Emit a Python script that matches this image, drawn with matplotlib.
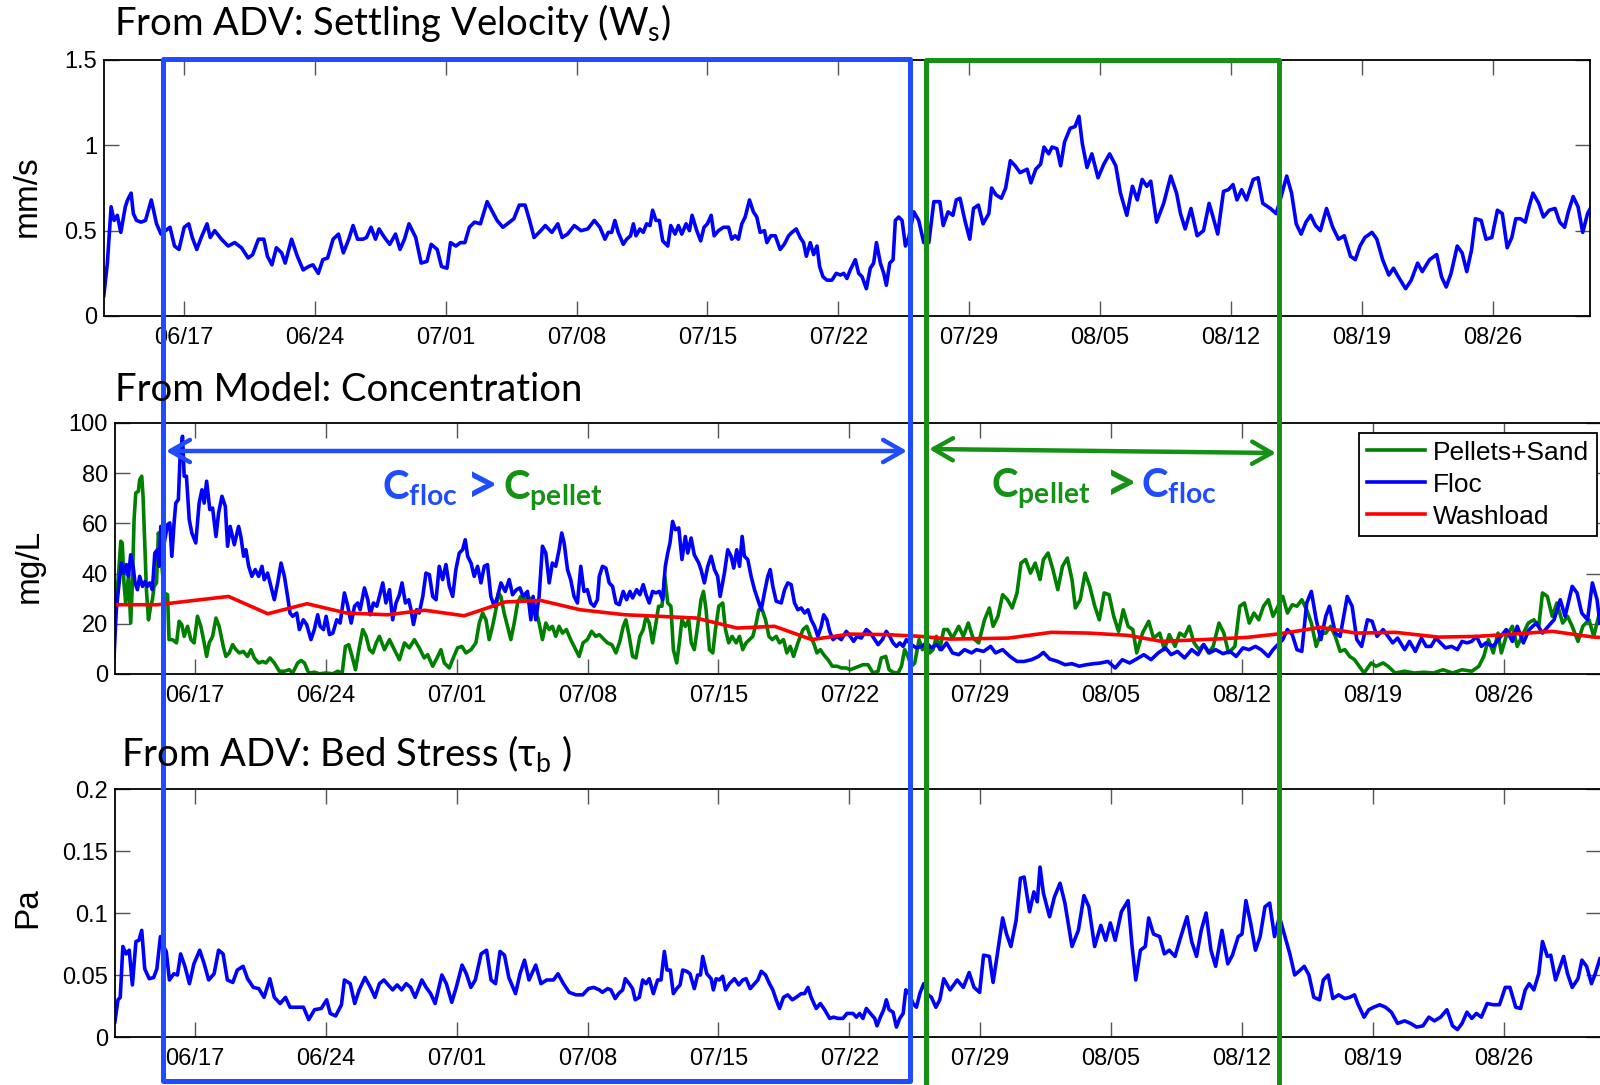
import matplotlib
matplotlib.use("Agg")
import matplotlib.pyplot as plt
from matplotlib.patches import FancyArrowPatch, Rectangle

plt.rcParams["font.family"] = ["Liberation Sans", "DejaVu Sans"]
plt.rcParams["mathtext.fontset"] = "custom"
plt.rcParams["mathtext.rm"] = "Lato"
plt.rcParams["mathtext.it"] = "Lato:italic"
plt.rcParams["mathtext.bf"] = "Lato:bold"
plt.rcParams["mathtext.fallback"] = "stixsans"

# days since 06/17 on every x axis
tick_days = [0, 7, 14, 21, 28, 35, 42, 49, 56, 63, 70]
tick_labels = ["06/17", "06/24", "07/01", "07/08", "07/15", "07/22",
               "07/29", "08/05", "08/12", "08/19", "08/26"]

# settling velocity, mm/s
ws_day = [
    -4.28, -4.09, -3.89, -3.73, -3.56, -3.37, -3.13, -3.01, -2.82, -2.70, -2.53, -2.29, -2.05, -1.74, -1.46, -1.22, -0.98, -0.74, -0.50, -0.26,
    0.02, 0.26, 0.45, 0.69, 0.93, 1.24, 1.41, 1.65, 2.01, 2.37, 2.72, 3.08, 3.44, 3.68, 3.99, 4.28, 4.47, 4.71, 4.95, 5.23,
    5.42, 5.76, 6.07, 6.38, 6.67, 6.90, 7.19, 7.43, 7.69, 7.98, 8.27, 8.53, 8.82, 9.05, 9.29, 9.58, 9.77, 10.01, 10.25, 10.44,
    10.73, 11.01, 11.32, 11.56, 11.80, 12.04, 12.40, 12.69, 13.00, 13.23, 13.55, 13.78, 14.07, 14.26, 14.55, 14.79, 15.03, 15.27, 15.55, 15.86,
    16.22, 16.46, 16.75, 17.06, 17.42, 17.65, 17.94, 18.25, 18.49, 18.73, 19.09, 19.33, 19.68, 20.00, 20.23, 20.52, 20.88, 21.24, 21.60, 21.95,
    22.25, 22.52, 22.70, 22.88, 23.05, 23.23, 23.50, 23.68, 23.89, 24.04, 24.18, 24.39, 24.57, 24.75, 24.93, 25.07, 25.25, 25.43, 25.61, 25.88,
    26.04, 26.27, 26.45, 26.63, 26.86, 27.04, 27.18, 27.43, 27.64, 27.82, 28.00, 28.20, 28.36, 28.59, 28.86, 29.13, 29.30, 29.48, 29.66, 29.84,
    30.02, 30.25, 30.46, 30.64, 30.82, 31.05, 31.18, 31.39, 31.63, 31.89, 32.11, 32.34, 32.52, 32.75, 32.96, 33.14, 33.29, 33.50, 33.68, 33.86,
    34.00, 34.18, 34.39, 34.66, 34.89, 35.11, 35.29, 35.46, 35.64, 35.91, 36.09, 36.27, 36.50, 36.71, 36.89, 37.04, 37.25, 37.43, 37.57, 37.75,
    37.93, 38.05, 38.23, 38.41, 38.59, 38.77, 39.04, 39.30, 39.57, 39.84, 40.11, 40.43, 40.61,
    40.87, 41.13, 41.31, 41.51, 41.77, 42.03, 42.23, 42.49, 42.74, 43.05, 43.20, 43.43, 43.72, 43.95, 44.20, 44.46, 44.72, 45.10, 45.30, 45.56,
    45.82, 46.00, 46.25, 46.43, 46.69, 46.89, 47.10, 47.40, 47.66, 47.87, 48.05, 48.30, 48.56, 48.89, 49.20, 49.51, 49.84, 50.09, 50.43, 50.73,
    50.99, 51.25, 51.50, 51.71, 52.02, 52.40, 52.78, 53.09, 53.30, 53.55, 53.86, 54.19, 54.53, 54.83, 55.04, 55.29, 55.60, 55.86, 56.11, 56.32,
    56.57, 56.83, 57.19, 57.45, 57.70, 58.11, 58.42, 58.68, 58.98, 59.24, 59.49, 59.75, 60.01, 60.26, 60.52, 60.78, 61.11, 61.44, 61.75, 62.06,
    62.39, 62.65, 62.90, 63.16, 63.54, 63.80, 64.11, 64.44, 64.69, 64.95, 65.34, 65.64, 65.98, 66.23, 66.62, 67.00, 67.26, 67.51, 67.77, 68.10,
    68.36, 68.61, 68.87, 69.07, 69.38, 69.64, 69.95, 70.25, 70.51, 70.77, 71.02, 71.23, 71.48, 71.74, 71.94, 72.15, 72.46, 72.71, 73.02, 73.33,
    73.58, 73.84, 74.04, 74.30, 74.56, 74.81, 75.07, 75.27,
]
ws_val = [
    0.12, 0.31, 0.64, 0.56, 0.59, 0.49, 0.64, 0.68, 0.72, 0.60, 0.56, 0.55, 0.56, 0.68, 0.54, 0.48, 0.50, 0.52, 0.41, 0.39,
    0.52, 0.54, 0.46, 0.39, 0.46, 0.54, 0.46, 0.50, 0.45, 0.41, 0.43, 0.40, 0.34, 0.36, 0.45, 0.45, 0.35, 0.30, 0.40, 0.37,
    0.31, 0.45, 0.35, 0.27, 0.29, 0.30, 0.25, 0.33, 0.34, 0.45, 0.48, 0.37, 0.45, 0.53, 0.45, 0.45, 0.46, 0.52, 0.45, 0.51,
    0.46, 0.42, 0.48, 0.39, 0.45, 0.54, 0.46, 0.31, 0.32, 0.42, 0.39, 0.29, 0.28, 0.43, 0.41, 0.43, 0.43, 0.52, 0.55, 0.54,
    0.67, 0.62, 0.56, 0.52, 0.55, 0.57, 0.65, 0.65, 0.56, 0.46, 0.50, 0.53, 0.49, 0.54, 0.46, 0.48, 0.53, 0.50, 0.51, 0.56,
    0.52, 0.45, 0.49, 0.49, 0.56, 0.49, 0.42, 0.45, 0.47, 0.54, 0.47, 0.51, 0.49, 0.54, 0.53, 0.62, 0.56, 0.56, 0.44, 0.41,
    0.53, 0.48, 0.53, 0.48, 0.54, 0.50, 0.59, 0.50, 0.44, 0.52, 0.54, 0.59, 0.47, 0.50, 0.52, 0.52, 0.45, 0.47, 0.45, 0.54,
    0.58, 0.68, 0.61, 0.58, 0.49, 0.50, 0.43, 0.47, 0.47, 0.39, 0.42, 0.47, 0.49, 0.51, 0.46, 0.43, 0.35, 0.43, 0.36, 0.41,
    0.29, 0.23, 0.21, 0.21, 0.25, 0.24, 0.25, 0.22, 0.27, 0.33, 0.25, 0.23, 0.16, 0.28, 0.31, 0.43, 0.31, 0.25, 0.18, 0.31,
    0.33, 0.56, 0.58, 0.56, 0.41, 0.46, 0.61, 0.56, 0.43, 0.43, 0.67, 0.67, 0.53,
    0.61, 0.59, 0.68, 0.69, 0.56, 0.45, 0.63, 0.65, 0.54, 0.60, 0.75, 0.71, 0.69, 0.75, 0.91, 0.88, 0.84, 0.86, 0.78, 0.86,
    0.89, 0.99, 0.95, 0.99, 0.98, 0.88, 1.02, 1.10, 1.11, 1.17, 1.01, 0.87, 0.95, 0.81, 0.89, 0.95, 0.88, 0.72, 0.59, 0.76,
    0.68, 0.80, 0.76, 0.79, 0.55, 0.66, 0.82, 0.72, 0.60, 0.51, 0.63, 0.47, 0.50, 0.66, 0.58, 0.48, 0.73, 0.74, 0.77, 0.68,
    0.74, 0.68, 0.80, 0.81, 0.66, 0.63, 0.60, 0.70, 0.82, 0.72, 0.54, 0.48, 0.55, 0.59, 0.53, 0.50, 0.63, 0.52, 0.45, 0.47,
    0.35, 0.33, 0.41, 0.46, 0.49, 0.45, 0.33, 0.24, 0.28, 0.23, 0.16, 0.21, 0.31, 0.26, 0.33, 0.36, 0.23, 0.17, 0.25, 0.41,
    0.37, 0.26, 0.39, 0.57, 0.56, 0.45, 0.46, 0.62, 0.60, 0.40, 0.46, 0.57, 0.57, 0.55, 0.64, 0.72, 0.66, 0.58, 0.62, 0.63,
    0.55, 0.52, 0.61, 0.70, 0.64, 0.49, 0.60, 0.64,
]

# modelled concentration, mg/L
floc_day = [
    -4.32, -4.20, -4.05, -3.93, -3.79, -3.66, -3.55, -3.43, -3.30, -3.20, -3.07, -2.95, -2.80, -2.66, -2.54, -2.41, -2.27, -2.14, -2.00, -1.91,
    -1.82, -1.64, -1.46, -1.34, -1.23, -1.11, -1.02, -0.88, -0.79, -0.66, -0.57, -0.45, -0.30, -0.16, 0.05, 0.23, 0.38, 0.50, 0.63, 0.80,
    0.95, 1.13, 1.27, 1.45, 1.63, 1.75, 1.89, 2.11, 2.34, 2.46, 2.61, 2.73, 2.88, 3.05, 3.23, 3.41, 3.59, 3.71, 3.89, 4.07,
    4.25, 4.43, 4.61, 4.79, 4.96, 5.09, 5.23, 5.45, 5.59, 5.80, 5.98, 6.21, 6.39, 6.57, 6.70, 6.88, 7.02, 7.20, 7.38, 7.59,
    7.77, 8.00, 8.18, 8.36, 8.54, 8.71, 8.84, 9.07, 9.25, 9.38, 9.55, 9.73,
    9.87, 10.05, 10.22, 10.41, 10.58, 10.76, 10.94, 11.08, 11.26, 11.44, 11.56, 11.69, 11.86, 12.00, 12.19, 12.36, 12.54, 12.72, 12.90, 13.07,
    13.25, 13.43, 13.61, 13.79, 13.96, 14.14, 14.32, 14.46, 14.59, 14.77, 14.94, 15.12, 15.30, 15.48, 15.65, 15.83, 16.01, 16.19, 16.37, 16.60,
    16.81, 16.99, 17.20, 17.38, 17.56, 17.79, 17.97, 18.09, 18.23, 18.41, 18.59, 18.77, 18.95, 19.12, 19.30, 19.48, 19.62, 19.75, 19.93, 20.10,
    20.28, 20.46, 20.64, 20.81, 20.99, 21.17, 21.35, 21.53,
    21.63, 21.80, 21.98, 22.16, 22.34, 22.52, 22.70, 22.91, 23.09, 23.27, 23.41, 23.63, 23.80, 23.98, 24.13, 24.30, 24.48, 24.66, 24.84, 25.02,
    25.16, 25.29, 25.41, 25.55, 25.70, 25.88, 26.05, 26.23, 26.36, 26.54, 26.71, 26.95, 27.07, 27.25, 27.43, 27.61, 27.79, 27.96, 28.09, 28.32,
    28.50, 28.68, 28.82, 28.98, 29.13, 29.27, 29.39, 29.57, 29.75, 29.93, 30.11, 30.29, 30.46, 30.64, 30.77, 30.91, 31.09, 31.36, 31.54, 31.71,
    31.89, 32.07, 32.25, 32.43, 32.61, 32.79, 32.96, 33.14, 33.32, 33.50, 33.63, 33.80, 33.95, 34.13, 34.34, 34.57, 34.84, 35.05, 35.23, 35.41,
    35.64, 35.91, 36.13, 36.36, 36.54, 36.77, 36.98, 37.16, 37.34, 37.52, 37.70, 37.88, 38.05, 38.32, 38.59, 38.86, 39.13, 39.39, 39.66, 39.93,
    40.20,
    40.52, 40.85, 41.16, 41.54, 41.80, 42.18, 42.56, 42.82, 43.20, 43.59, 43.97, 44.35, 44.74, 45.12, 45.38, 45.71, 46.15, 46.53, 46.91, 47.30,
    47.68, 48.07, 48.45, 48.83, 49.22, 49.60, 49.99, 50.37, 50.75, 51.14, 51.52, 51.91, 52.21, 52.55, 52.93, 53.31, 53.65, 53.95, 54.26, 54.59,
    54.98, 55.36, 55.69, 56.05, 56.38, 56.72, 57.02, 57.41, 57.66, 57.92, 58.18, 58.43, 58.69, 58.94, 59.20, 59.46, 59.71, 59.97, 60.22, 60.48,
    60.68, 60.99, 61.25, 61.63, 61.89, 62.14, 62.40, 62.71, 62.96, 63.22, 63.55, 63.81, 64.06, 64.32, 64.70, 64.96, 65.27, 65.60, 65.85, 66.11,
    66.37, 66.62, 66.88, 67.21, 67.52, 67.77, 68.03, 68.29, 68.54, 68.80, 69.05, 69.44, 69.77, 70.13, 70.46, 70.72, 71.05, 71.36, 71.74, 72.07,
    72.38, 72.69, 73.02, 73.28, 73.66, 73.92, 74.17, 74.48, 74.74, 74.99, 75.14,
]
floc_val = [
    7.0, 25.6, 36.3, 44.2, 40.2, 43.6, 38.9, 47.5, 42.9, 36.3, 33.6, 38.9, 34.9, 36.9, 34.9, 36.3, 33.6, 48.2, 49.5, 42.9,
    58.8, 52.2, 59.5, 60.2, 46.9, 60.2, 68.1, 69.5, 86.7, 94.7, 78.8, 78.8, 61.5, 56.2, 52.2, 68.1, 73.4, 68.1, 76.8, 65.5,
    66.1, 54.8, 64.1, 70.8, 66.8, 50.9, 58.8, 51.5, 58.8, 54.8, 46.9, 49.5, 42.9, 38.9, 41.6, 38.9, 42.9, 37.6, 40.2, 34.9,
    29.6, 36.3, 44.2, 38.9, 30.9, 24.3, 23.0, 24.3, 17.7, 21.6, 19.7, 13.7, 17.7, 23.6, 19.0, 17.7, 23.0, 15.7, 16.3, 21.6,
    20.3, 32.3, 27.0, 20.3, 27.0, 28.3, 25.6, 34.3, 29.6, 23.6, 28.3, 27.0,
    30.9, 36.3, 28.3, 33.6, 21.6, 28.3, 31.6, 36.3, 28.3, 29.6, 25.6, 19.7, 25.6, 24.3, 30.9, 40.2, 39.6, 30.9, 29.6, 42.9,
    37.6, 43.6, 34.9, 30.9, 41.6, 48.2, 49.5, 53.5, 46.9, 44.2, 38.9, 42.9, 36.3, 42.9, 43.6, 30.9, 27.0, 30.9, 36.3, 32.9,
    37.6, 31.6, 33.6, 34.3, 30.9, 32.9, 21.6, 30.9, 21.6, 30.9, 50.9, 48.2, 36.3, 44.2, 42.9, 49.5, 56.2, 52.2, 41.6, 37.6,
    30.9, 28.3, 42.9, 32.9, 33.6, 28.3, 27.0, 29.6,
    38.9, 42.9, 42.2, 36.3, 34.9, 28.3, 27.6, 32.9, 29.6, 32.9, 30.3, 33.6, 31.6, 35.6, 31.6, 28.3, 32.9, 32.3, 32.9, 29.6,
    42.9, 48.2, 52.2, 60.8, 57.5, 58.2, 45.6, 54.8, 48.2, 54.2, 47.5, 44.2, 41.6, 36.3, 42.9, 46.9, 41.6, 38.9, 30.9, 40.2,
    49.5, 46.9, 42.2, 49.5, 42.9, 54.8, 46.9, 45.6, 38.9, 33.6, 29.6, 25.6, 32.3, 38.9, 41.6, 34.9, 29.0, 28.3, 33.6, 36.3,
    35.6, 28.3, 25.6, 26.3, 24.3, 25.6, 21.6, 19.0, 15.0, 19.0, 23.6, 21.6, 17.0, 13.7, 15.0, 13.7, 17.0, 15.0, 13.0, 15.0,
    14.3, 17.7, 16.3, 13.7, 11.7, 13.7, 17.0, 15.0, 12.4, 11.0, 12.4, 11.0, 13.7, 11.7, 10.4, 11.0, 12.4, 10.4, 11.7, 9.7,
    12.4,
    8.4, 7.7, 9.7, 8.4, 9.7, 9.0, 11.0, 8.4, 9.7, 7.0, 5.0, 5.0, 5.7, 7.0, 8.6, 6.0, 5.0, 3.7, 4.1, 3.1,
    3.7, 4.1, 4.4, 5.0, 2.4, 5.7, 4.4, 6.0, 7.7, 5.7, 8.4, 10.4, 7.7, 9.0, 6.4, 9.7, 7.7, 11.7, 8.4, 9.7,
    8.1, 9.0, 7.0, 10.4, 9.7, 11.0, 9.7, 7.0, 9.7, 11.7, 13.7, 17.7, 15.7, 9.7, 9.0, 28.3, 32.9, 21.6, 13.7, 23.0,
    27.0, 16.3, 15.0, 30.9, 27.0, 13.7, 11.0, 21.6, 21.0, 15.0, 17.7, 15.0, 12.4, 14.3, 9.7, 13.0, 9.0, 14.3, 11.0, 11.0,
    14.3, 12.4, 10.4, 11.0, 9.7, 13.0, 12.4, 13.0, 15.0, 11.0, 12.4, 11.0, 14.3, 17.7, 13.0, 19.0, 12.4, 17.7, 20.3, 16.3,
    19.0, 21.6, 29.6, 23.0, 34.9, 32.3, 24.3, 21.6, 36.3, 29.6, 20.3,
]

pellet_day = [
    -4.32, -4.20, -4.09, -3.96, -3.88, -3.79, -3.70, -3.55, -3.43, -3.34, -3.25, -3.16, -3.02, -2.95, -2.84, -2.77, -2.68, -2.59, -2.48, -2.36,
    -2.27, -2.18, -2.05, -1.95, -1.82, -1.64, -1.46, -1.38, -1.20, -0.98, -0.84, -0.70, -0.57, -0.39, -0.21, -0.04, 0.14, 0.32, 0.50, 0.63,
    0.77, 0.95, 1.13, 1.30, 1.52, 1.66, 1.84, 2.02, 2.20, 2.38, 2.59, 2.82, 3.00, 3.18, 3.41, 3.63, 3.80, 4.02, 4.25, 4.52,
    4.79, 5.05, 5.23, 5.50, 5.68, 5.86, 6.09, 6.39, 6.66, 7.02, 7.38, 7.64, 7.88, 8.05, 8.23, 8.41, 8.59, 8.77, 8.98, 9.16,
    9.34, 9.52, 9.70,
    9.87, 10.14, 10.41, 10.67, 10.94, 11.21, 11.47, 11.74, 12.00, 12.27, 12.45, 12.72, 12.99, 13.16, 13.34, 13.61, 13.82, 14.05, 14.28, 14.50,
    14.77, 15.03, 15.21, 15.39, 15.57, 15.74, 15.92, 16.10, 16.24, 16.37, 16.54, 16.72, 16.90, 17.08, 17.26, 17.43, 17.61, 17.79, 18.02, 18.23,
    18.41, 18.59, 18.77, 18.95, 19.12, 19.30, 19.48, 19.66, 19.87, 20.10, 20.28, 20.55, 20.76, 20.99, 21.22, 21.44,
    21.63, 21.89, 22.07, 22.30, 22.52, 22.73, 22.91, 23.05, 23.23, 23.41, 23.59, 23.80, 23.98, 24.13, 24.30, 24.48, 24.66, 24.80, 24.98, 25.13,
    25.29, 25.46, 25.59, 25.77, 25.91, 26.05, 26.23, 26.41, 26.55, 26.71, 26.89, 27.07, 27.20, 27.34, 27.52, 27.70, 27.84, 28.02, 28.23, 28.38,
    28.55, 28.73, 28.95, 29.13, 29.30, 29.48, 29.66, 29.84, 30.02, 30.16, 30.34, 30.52, 30.70, 30.88, 31.09, 31.27, 31.48, 31.66, 31.84, 32.02,
    32.25, 32.52, 32.73, 32.91, 33.09, 33.27, 33.45, 33.63, 33.86, 34.09, 34.34, 34.57, 34.84, 35.05, 35.29, 35.52, 35.73, 36.00, 36.27, 36.54,
    36.71, 36.95, 37.13, 37.34, 37.61, 37.79, 37.96, 38.14, 38.32, 38.50, 38.73, 38.91, 39.13, 39.30, 39.48, 39.66, 39.84, 40.05,
    40.26, 40.52, 40.85, 41.10, 41.36, 41.62, 41.92, 42.23, 42.49, 42.69, 42.95, 43.20, 43.46, 43.71, 43.97, 44.18, 44.43, 44.69, 44.94, 45.20,
    45.38, 45.63, 45.89, 46.15, 46.40, 46.66, 46.91, 47.09, 47.35, 47.61, 47.86, 48.12, 48.37, 48.63, 48.89, 49.14, 49.40, 49.65, 49.91, 50.16,
    50.37, 50.68, 51.01, 51.27, 51.60, 51.85, 52.11, 52.42, 52.67, 52.93, 53.18, 53.44, 53.70, 53.95, 54.21, 54.46, 54.77, 55.03, 55.28, 55.62,
    55.88, 56.13, 56.39, 56.64, 56.90, 57.15, 57.41, 57.66, 57.84, 58.18, 58.43, 58.69, 58.94, 59.20, 59.46, 59.71, 59.97, 60.22, 60.48, 60.74,
    60.99, 61.25, 61.50, 61.76, 62.02, 62.27, 62.53, 62.91, 63.17, 63.55, 63.81, 64.19, 64.70, 65.21, 65.73, 66.24, 66.75, 67.26, 67.77, 68.29,
    68.67, 68.93, 69.18, 69.44, 69.69, 69.87, 70.13, 70.46, 70.72, 70.97, 71.31, 71.61, 71.87, 72.07, 72.33, 72.59, 72.84, 73.15, 73.41, 73.66,
    73.97, 74.23, 74.56, 74.81, 75.14,
]
pellet_val = [
    25.6, 29.6, 38.9, 52.9, 52.2, 36.3, 28.3, 38.9, 20.3, 36.3, 61.5, 72.1, 72.8, 77.4, 78.8, 70.8, 52.2, 33.6, 21.6, 27.0,
    29.6, 34.9, 36.3, 56.2, 48.2, 32.3, 31.6, 13.7, 13.7, 12.4, 21.0, 19.7, 15.0, 19.0, 13.7, 12.4, 23.0, 19.0, 12.4, 7.0,
    12.4, 15.0, 22.3, 19.0, 11.0, 7.0, 8.4, 11.7, 9.7, 8.4, 9.0, 7.0, 9.7, 6.4, 4.4, 5.0, 4.4, 6.4, 4.4, 1.1,
    1.1, 1.7, 0.4, 4.4, 5.4, 4.4, 0.4, 0.7, 0.1, 0.4, 0.1, 1.1, 0.4, 11.0, 11.7, 7.0, 1.7, 9.7, 17.7, 15.0,
    9.7, 8.4, 12.4,
    15.0, 9.7, 13.7, 9.7, 5.7, 12.4, 10.4, 13.7, 10.4, 6.4, 7.7, 3.1, 7.0, 9.7, 4.4, 2.4, 6.4, 10.4, 11.0, 8.4,
    9.7, 12.4, 20.3, 24.3, 21.6, 13.7, 19.0, 25.6, 32.3, 30.9, 24.3, 19.0, 13.7, 20.3, 28.3, 30.9, 29.6, 30.9, 29.6, 25.6,
    20.3, 13.7, 20.3, 17.7, 19.0, 15.0, 19.0, 16.3, 17.7, 13.7, 11.0, 7.0, 12.4, 13.7, 17.0, 15.0,
    15.7, 13.7, 12.4, 11.7, 8.4, 13.0, 19.0, 21.6, 15.0, 7.0, 6.4, 15.0, 17.7, 23.0, 20.3, 12.4, 20.3, 27.0, 27.0, 38.9,
    28.3, 27.0, 9.7, 4.4, 12.4, 21.6, 19.0, 21.6, 12.4, 9.7, 19.0, 29.6, 32.9, 25.6, 9.7, 8.4, 17.7, 27.0, 28.3, 17.7,
    12.4, 15.0, 12.4, 15.0, 9.7, 12.4, 13.7, 15.0, 20.3, 25.6, 25.6, 21.6, 15.0, 13.7, 15.0, 12.4, 13.7, 8.4, 11.0, 7.0,
    12.4, 17.7, 19.0, 15.0, 12.4, 8.4, 9.7, 7.7, 5.7, 3.1, 3.1, 2.4, 2.4, 1.7, 2.4, 3.1, 3.7, 3.7, 0.4, 1.1,
    6.4, 7.0, 1.7, 0.7, 0.4, 3.1, 9.7, 7.0, 3.1, 4.4, 13.7, 9.7, 12.4, 8.4, 9.7, 15.0, 9.7, 17.7,
    17.7, 14.3, 19.0, 15.0, 20.3, 14.3, 12.4, 21.6, 26.3, 19.0, 23.0, 31.6, 29.6, 26.3, 32.3, 44.2, 45.6, 40.2, 44.2, 37.6,
    45.6, 48.2, 41.6, 33.6, 42.9, 46.2, 37.6, 26.3, 29.6, 40.2, 34.9, 27.2, 21.6, 32.3, 31.6, 23.0, 17.0, 25.6, 19.0, 17.7,
    8.4, 16.3, 21.0, 14.3, 16.3, 9.7, 15.7, 11.0, 16.3, 15.0, 19.0, 12.4, 9.7, 11.7, 8.4, 11.0, 20.3, 16.3, 8.4, 11.0,
    27.0, 28.3, 20.3, 24.3, 21.6, 27.0, 29.6, 23.0, 25.6, 30.9, 24.3, 27.6, 27.0, 29.6, 25.6, 20.3, 11.0, 16.3, 16.3, 19.0,
    15.0, 9.0, 9.7, 7.0, 5.7, 3.1, 0.4, 4.4, 3.1, 4.4, 3.1, 0.4, 1.1, 0.4, 0.7, 0.4, 1.7, 0.4, 1.7, 1.1,
    3.1, 7.0, 13.7, 8.4, 16.3, 8.4, 15.0, 19.0, 11.0, 15.0, 20.3, 21.6, 19.0, 32.3, 30.9, 23.0, 28.3, 20.3, 23.0, 19.0,
    13.0, 19.0, 21.6, 15.0, 25.0,
]

wash_day = [-4.3, -2.0, 1.8, 3.9, 6.0, 8.1, 10.3, 12.3, 14.4, 16.6, 18.5, 20.6, 23.0, 26.8, 29.0, 31.0,
            33.0, 35.0, 37.0, 38.8, 40.4, 43.5, 45.8, 47.8, 49.9, 51.7, 54.5, 56.3, 58.1, 60.2, 62.1,
            64.2, 66.5, 68.6, 70.9, 72.6, 74.8, 75.3]
wash_val = [27.6, 27.6, 30.9, 24.0, 28.0, 24.3, 23.6, 25.4, 23.2, 28.7, 29.3, 25.6, 23.6, 22.3, 18.3, 19.0,
            13.7, 15.9, 15.7, 15.0, 13.9, 14.3, 16.6, 16.3, 15.4, 13.0, 13.9, 14.6, 16.1, 18.6, 16.3,
            16.6, 14.7, 15.0, 16.1, 17.0, 14.7, 14.5]

# bed stress, Pa
tau_day = [
    -4.28, -4.11, -3.99, -3.85, -3.68, -3.51, -3.34, -3.15, -2.99, -2.84, -2.68, -2.44, -2.20, -2.03, -1.84, -1.67, -1.53, -1.36, -1.12, -0.93,
    -0.76, -0.53, -0.29, -0.05, 0.26, 0.50, 0.74, 1.03, 1.27, 1.51, 1.74, 2.03, 2.27, 2.58, 2.82, 3.13, 3.42, 3.70, 4.01, 4.25,
    4.56, 4.85, 5.09, 5.45, 5.81, 6.09, 6.40, 6.76, 7.05, 7.24, 7.53, 7.84, 8.00, 8.31, 8.55, 8.79, 9.10, 9.39, 9.63, 9.87,
    10.11, 10.34, 10.58, 10.82, 11.06, 11.30, 11.54, 11.78, 12.14, 12.37, 12.61, 12.85, 13.21, 13.45, 13.74, 13.98, 14.29, 14.52, 14.76, 15.00,
    15.31, 15.60, 15.84, 16.08, 16.32, 16.56, 16.79, 17.15, 17.39, 17.63, 17.87, 18.23, 18.51, 18.82, 19.18, 19.42, 19.71, 20.02, 20.38, 20.74,
    21.05, 21.33,
    21.63, 21.80, 22.07, 22.25, 22.48, 22.66, 22.88, 23.02, 23.23, 23.41, 23.55, 23.77, 23.95, 24.13, 24.30, 24.52, 24.75, 24.93, 25.11, 25.25,
    25.43, 25.59, 25.77, 25.95, 26.09, 26.30, 26.48, 26.71, 26.89, 27.04, 27.16, 27.38, 27.61, 27.73, 27.88, 28.05, 28.23, 28.38, 28.59, 28.86,
    29.09, 29.30, 29.48, 29.70, 29.93, 30.11, 30.29, 30.52, 30.73, 30.91, 31.09, 31.27, 31.48, 31.71, 31.95, 32.16, 32.43, 32.61, 32.79, 32.96,
    33.23, 33.45, 33.68, 33.95, 34.16, 34.39, 34.66, 34.88, 35.20, 35.38, 35.55, 35.73, 35.91, 36.13, 36.36, 36.48, 36.66, 36.84, 36.98, 37.13,
    37.34, 37.52, 37.70, 37.88, 38.02, 38.20, 38.41, 38.59, 38.77, 38.98, 39.21, 39.39, 39.63, 39.84, 40.05,
    40.39, 40.77, 41.10, 41.41, 41.67, 41.97, 42.18, 42.49, 42.69, 42.90, 43.20, 43.41, 43.64, 43.92, 44.15, 44.35, 44.64, 44.87, 45.05, 45.20,
    45.38, 45.71, 45.97, 46.27, 46.53, 46.91, 47.25, 47.55, 47.81, 48.12, 48.45, 48.71, 48.96, 49.22, 49.55, 49.91, 50.11, 50.32, 50.57, 50.83,
    51.01, 51.27, 51.60, 51.85, 52.11, 52.42, 52.67, 53.06, 53.31, 53.57, 53.82, 54.08, 54.34, 54.59, 54.93, 55.24, 55.49, 55.80, 56.00, 56.21,
    56.46, 56.72, 56.97, 57.23, 57.48, 57.74, 58.00, 58.30, 58.56, 58.82, 59.12, 59.33, 59.58, 59.84, 60.15, 60.35, 60.61, 60.86, 61.17, 61.50,
    61.76, 62.02, 62.19, 62.53, 62.78, 63.04, 63.37, 63.68, 63.99, 64.32, 64.70, 65.01, 65.34, 65.68, 65.99, 66.29, 66.62, 66.96, 67.26, 67.52,
    67.77, 68.03, 68.29, 68.54, 68.80, 69.11, 69.44, 69.77, 70.08, 70.33, 70.64, 70.90, 71.15, 71.36, 71.61, 71.87, 72.07, 72.33, 72.51, 72.77,
    73.02, 73.20, 73.41, 73.66, 73.97, 74.18, 74.43, 74.69, 74.89, 75.14,
]
tau_val = [
    0.012, 0.030, 0.032, 0.073, 0.067, 0.070, 0.042, 0.077, 0.078, 0.086, 0.055, 0.047, 0.048, 0.055, 0.081, 0.073, 0.069, 0.046, 0.051, 0.050,
    0.067, 0.057, 0.043, 0.059, 0.070, 0.059, 0.046, 0.051, 0.070, 0.067, 0.046, 0.044, 0.054, 0.057, 0.047, 0.040, 0.039, 0.032, 0.047, 0.032,
    0.027, 0.032, 0.024, 0.024, 0.024, 0.014, 0.022, 0.023, 0.030, 0.019, 0.017, 0.026, 0.046, 0.043, 0.027, 0.038, 0.048, 0.040, 0.032, 0.043,
    0.046, 0.042, 0.038, 0.042, 0.038, 0.043, 0.040, 0.032, 0.046, 0.040, 0.035, 0.027, 0.050, 0.043, 0.028, 0.040, 0.058, 0.051, 0.040, 0.046,
    0.067, 0.070, 0.046, 0.043, 0.069, 0.066, 0.048, 0.035, 0.051, 0.062, 0.046, 0.058, 0.043, 0.046, 0.046, 0.051, 0.043, 0.036, 0.034, 0.034,
    0.039, 0.040,
    0.038, 0.036, 0.039, 0.038, 0.031, 0.035, 0.038, 0.047, 0.043, 0.039, 0.030, 0.032, 0.046, 0.043, 0.047, 0.035, 0.046, 0.046, 0.069, 0.054,
    0.054, 0.035, 0.039, 0.042, 0.054, 0.053, 0.051, 0.039, 0.050, 0.050, 0.065, 0.051, 0.047, 0.038, 0.047, 0.046, 0.049, 0.038, 0.043, 0.047,
    0.042, 0.046, 0.047, 0.039, 0.043, 0.046, 0.053, 0.050, 0.043, 0.038, 0.030, 0.023, 0.032, 0.034, 0.030, 0.032, 0.035, 0.035, 0.040, 0.032,
    0.023, 0.027, 0.022, 0.015, 0.016, 0.015, 0.015, 0.019, 0.019, 0.016, 0.019, 0.015, 0.023, 0.019, 0.015, 0.009, 0.016, 0.022, 0.030, 0.022,
    0.020, 0.008, 0.015, 0.019, 0.038, 0.035, 0.027, 0.024, 0.035, 0.043, 0.034, 0.032, 0.024, 0.030, 0.047,
    0.038, 0.046, 0.040, 0.052, 0.040, 0.036, 0.066, 0.065, 0.044, 0.065, 0.096, 0.083, 0.073, 0.094, 0.128, 0.129, 0.101, 0.117, 0.109, 0.137,
    0.116, 0.097, 0.113, 0.124, 0.108, 0.073, 0.086, 0.114, 0.105, 0.073, 0.090, 0.078, 0.092, 0.078, 0.101, 0.110, 0.075, 0.046, 0.070, 0.073,
    0.096, 0.083, 0.081, 0.067, 0.070, 0.065, 0.078, 0.097, 0.077, 0.065, 0.086, 0.100, 0.070, 0.057, 0.086, 0.059, 0.066, 0.081, 0.083, 0.110,
    0.092, 0.070, 0.081, 0.105, 0.108, 0.081, 0.097, 0.081, 0.067, 0.050, 0.054, 0.057, 0.050, 0.032, 0.030, 0.046, 0.050, 0.031, 0.034, 0.031,
    0.032, 0.034, 0.027, 0.016, 0.022, 0.024, 0.026, 0.024, 0.020, 0.011, 0.013, 0.011, 0.008, 0.009, 0.016, 0.013, 0.016, 0.022, 0.009, 0.006,
    0.011, 0.020, 0.015, 0.019, 0.016, 0.027, 0.026, 0.026, 0.040, 0.040, 0.024, 0.023, 0.038, 0.043, 0.038, 0.051, 0.077, 0.065, 0.066, 0.046,
    0.057, 0.065, 0.051, 0.040, 0.047, 0.062, 0.057, 0.043, 0.051, 0.063,
]

LINE_BLUE = "#0000ff"
LINE_GREEN = "#008000"
LINE_RED = "#ff0000"
BOX_BLUE = "#1f4cff"
BOX_GREEN = "#159115"

W, H = 1600, 1085
fig = plt.figure(figsize=(W / 100, H / 100), dpi=100)


def px_rect(left, top, right, bottom):
    return [left / W, 1 - bottom / H, (right - left) / W, (bottom - top) / H]


def fx(x):
    return x / W


def fy(y):
    return 1 - y / H


def style_axes(ax, ylim, yticks, ylabels, ylabel, label_pos):
    ax.set_xlim(-4.27, 75.2)
    ax.set_ylim(*ylim)
    ax.set_xticks(tick_days, tick_labels)
    ax.set_yticks(yticks, ylabels)
    ax.tick_params(direction="in", length=10.5, width=1.0, color="#555555",
                   top=True, right=True, labelsize=17)
    ax.tick_params(axis="x", pad=8)
    ax.tick_params(axis="y", pad=5)
    for s in ax.spines.values():
        s.set_linewidth(1.3)
    ax.set_ylabel(ylabel, fontsize=24, va="center")
    ax.yaxis.set_label_coords(*label_pos)


ax1 = fig.add_axes(px_rect(104, 60, 1590, 316))
ax2 = fig.add_axes(px_rect(115, 423, 1601, 674))
ax3 = fig.add_axes(px_rect(115, 789, 1601, 1037))

ax1.plot(ws_day, ws_val, color=LINE_BLUE, lw=2.6)
style_axes(ax1, (0, 1.5), [0, 0.5, 1, 1.5], ["0", "0.5", "1", "1.5"], "mm/s", (-0.052, 0.47))

l_pel, = ax2.plot(pellet_day, pellet_val, color=LINE_GREEN, lw=2.6)
l_floc, = ax2.plot(floc_day, floc_val, color=LINE_BLUE, lw=2.6)
l_wash, = ax2.plot(wash_day, wash_val, color=LINE_RED, lw=2.6)
style_axes(ax2, (0, 100), [0, 20, 40, 60, 80, 100], ["0", "20", "40", "60", "80", "100"],
           "mg/L", (-0.058, 0.43))
leg = ax2.legend([l_pel, l_floc, l_wash], ["Pellets+Sand", "Floc", "Washload"],
                 loc="upper left", bbox_to_anchor=(0.837, 0.961), borderaxespad=0,
                 fontsize=19, fancybox=False, edgecolor="black", framealpha=1,
                 borderpad=0.3, labelspacing=0.3, handlelength=2.2, handletextpad=0.3)
leg.get_frame().set_linewidth(1.3)

ax3.plot(tau_day, tau_val, color=LINE_BLUE, lw=2.6)
style_axes(ax3, (0, 0.2), [0, 0.05, 0.1, 0.15, 0.2], ["0", "0.05", "0.1", "0.15", "0.2"],
           "Pa", (-0.059, 0.52))

# panel headings
title_kw = dict(fontsize=27.5, family="Lato", ha="left", va="baseline")
fig.text(fx(114), fy(35), r"From ADV: Settling Velocity (W$_\mathregular{s}$)", **title_kw)
fig.text(fx(115), fy(401), "From Model: Concentration", **title_kw)
fig.text(fx(121), fy(766), r"From ADV: Bed Stress ($\mathregular{\tau_b}$ )", **title_kw)

# highlighted periods
fig.add_artist(Rectangle((fx(163), fy(1081)), (910 - 163) / W, (1081 - 59) / H,
                         transform=fig.transFigure, fill=False, ec=BOX_BLUE, lw=3.6,
                         joinstyle="round"))
fig.add_artist(Rectangle((fx(926), fy(1100)), (1279 - 926) / W, (1100 - 60) / H,
                         transform=fig.transFigure, fill=False, ec=BOX_GREEN, lw=3.6,
                         joinstyle="round"))

arrow_style = "<->,head_length=0.7,head_width=0.4"
fig.add_artist(FancyArrowPatch((fx(166), fy(451)), (fx(907), fy(451)),
                               transform=fig.transFigure, arrowstyle=arrow_style,
                               mutation_scale=20, lw=3.2, color=BOX_BLUE,
                               shrinkA=0, shrinkB=0))
fig.add_artist(FancyArrowPatch((fx(929), fy(449)), (fx(1276), fy(453)),
                               transform=fig.transFigure, arrowstyle=arrow_style,
                               mutation_scale=20, lw=3.2, color=BOX_GREEN,
                               shrinkA=0, shrinkB=0))

note_kw = dict(fontsize=29, family="Lato", fontweight="bold", ha="left", va="baseline")
gt_kw = dict(fontsize=40, family="Lato", fontweight="bold", ha="left", va="baseline")
fig.text(fx(382), fy(500), r"$\mathbf{C_{floc}}$", color=BOX_BLUE, **note_kw)
fig.text(fx(466), fy(503), ">", color=BOX_BLUE, **gt_kw)
fig.text(fx(503), fy(500), r"$\mathbf{C_{pellet}}$", color=BOX_GREEN, **note_kw)
fig.text(fx(991), fy(498), r"$\mathbf{C_{pellet}}$", color=BOX_GREEN, **note_kw)
fig.text(fx(1105), fy(501), ">", color=BOX_GREEN, **gt_kw)
fig.text(fx(1141), fy(498), r"$\mathbf{C_{floc}}$", color=BOX_BLUE, **note_kw)

fig.savefig("out.png", dpi=100)
